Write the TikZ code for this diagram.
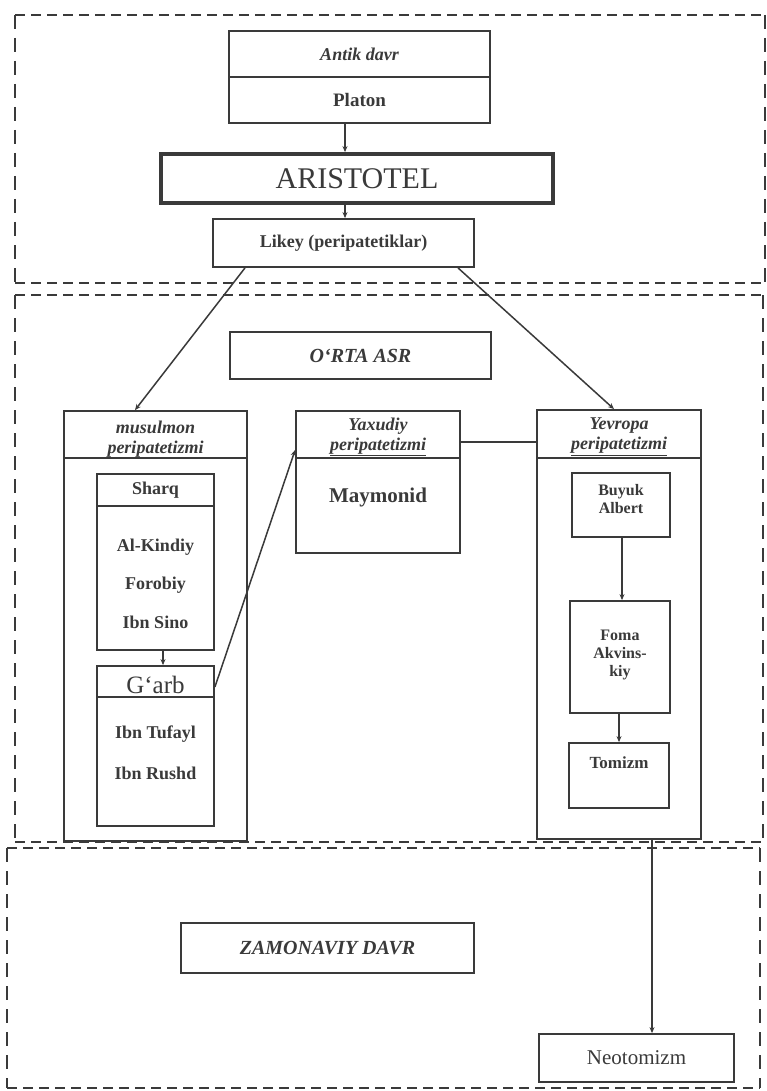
\documentclass[tikz,border=0pt]{standalone}
\usepackage{fontspec}
\setmainfont{Liberation Serif}
\usetikzlibrary{arrows.meta}
\definecolor{ink}{RGB}{58,58,58}
\begin{document}
\begin{tikzpicture}[x=1pt,y=-1pt,
  box/.style={draw=ink, line width=1.8pt, rectangle, inner sep=0pt},
  divider/.style={draw=ink, line width=1.6pt},
  frameh/.style={draw=ink, line width=2.8pt, dash pattern=on 10pt off 6pt},
  framev/.style={draw=ink, line width=2.8pt, dash pattern=on 14pt off 9pt},
  lbl/.style={font=\fontsize{18}{20}\selectfont\bfseries, text=ink, align=center, inner sep=0pt},
  slbl/.style={font=\fontsize{16}{18}\selectfont\bfseries, text=ink, align=center, inner sep=0pt},
  ilbl/.style={font=\fontsize{18}{20}\selectfont\bfseries\itshape, text=ink, align=center, inner sep=0pt},
  conn/.style={draw=ink, line width=1.5pt},
  arr/.style={conn, -{Stealth[length=6pt,width=5pt]}},
]
\useasboundingbox (0,0) rectangle (766,1091);
\fill[white] (0,0) rectangle (766,1091);

% ---------- frames ----------
\draw[frameh] (15,15) -- (765,15);
\draw[frameh] (15,283) -- (765,283);
\draw[framev] (15,15) -- (15,283);
\draw[framev] (765,15) -- (765,283);

\draw[frameh] (15,295) -- (763,295);
\draw[frameh] (15,842) -- (763,842);
\draw[framev] (15,295) -- (15,842);
\draw[framev] (763,295) -- (763,842);

\draw[frameh] (7,848) -- (760,848);
\draw[frameh] (7,1088) -- (760,1088);
\draw[framev] (7,848) -- (7,1088);
\draw[framev] (760,848) -- (760,1088);

% ---------- helper coordinates ----------
\coordinate (xa) at (345,0);
\coordinate (xl1) at (245,0);
\coordinate (xm) at (135,0);
\coordinate (xl2) at (458,0);
\coordinate (xe) at (614,0);
\coordinate (xs) at (163,0);
\coordinate (xb) at (622,0);
\coordinate (xf) at (619,0);
\coordinate (xn) at (652,0);
\coordinate (ya) at (0,77);
\coordinate (yh) at (0,458);
\coordinate (ys) at (0,506);
\coordinate (yg) at (0,697);
\coordinate (ygt) at (0,687);
\coordinate (yyx) at (0,450);
\coordinate (yc) at (0,442);

% ---------- Antik davr ----------
\node[box, minimum width=261pt, minimum height=92pt] (antik) at (359.5,77) {};
\draw[divider] (antik.west |- ya) -- (antik.east |- ya);
\node[ilbl] (antiktxt) at (359.5,54) {Antik davr};
\node[lbl, font=\fontsize{19}{21}\selectfont\bfseries] (platon) at (359.5,100) {Platon};

\node[box, line width=3.8pt, minimum width=392pt, minimum height=49pt,
      font=\fontsize{30}{32}\selectfont, text=ink] (ari) at (357,178.5) {ARISTOTEL};

\node[box, minimum width=261pt, minimum height=48pt, font=\fontsize{18}{20}\selectfont\bfseries, text=ink]
      (likey) at (343.5,243) {Likey (peripatetiklar)};

% ---------- O'rta asr ----------
\node[box, minimum width=261pt, minimum height=47pt, font=\fontsize{20}{22}\selectfont\bfseries\itshape, text=ink]
      (orta) at (360.5,355.5) {O‘RTA ASR};

% musulmon
\node[box, minimum width=183pt, minimum height=430pt] (mus) at (155.5,626) {};
\draw[divider] (mus.west |- yh) -- (mus.east |- yh);
\node[ilbl] (mustxt) at (155.5,440) {musulmon\\\underline{peripatetizmi}};

\node[box, minimum width=117pt, minimum height=176pt] (sharq) at (155.5,562) {};
\draw[divider] (sharq.west |- ys) -- (sharq.east |- ys);
\node[lbl] (sharqtxt) at (155.5,490) {Sharq};
\node[lbl] (kindiy) at (155.5,547) {Al-Kindiy};
\node[lbl] (forobiy) at (155.5,585) {Forobiy};
\node[lbl] (sino) at (155.5,622) {Ibn Sino};

\node[box, minimum width=117pt, minimum height=160pt] (garb) at (155.5,746) {};
\draw[divider] (garb.west |- yg) -- (garb.east |- yg);
\node[font=\fontsize{25}{27}\selectfont, text=ink, inner sep=0pt] (garbtxt) at (155.5,685) {G‘arb};
\node[lbl] (tufayl) at (155.5,734) {Ibn Tufayl};
\node[lbl] (rushd) at (155.5,773) {Ibn Rushd};

% yaxudiy
\node[box, minimum width=164pt, minimum height=142pt] (yax) at (378,482) {};
\draw[divider] (yax.west |- yh) -- (yax.east |- yh);
\node[ilbl] (yaxtxt) at (378,437) {Yaxudiy\\\underline{peripatetizmi}};
\node[lbl, font=\fontsize{21}{23}\selectfont\bfseries] (maymonid) at (378,497) {Maymonid};

% yevropa
\node[box, minimum width=164pt, minimum height=429pt] (yev) at (619,624.5) {};
\draw[divider] (yev.west |- yh) -- (yev.east |- yh);
\node[ilbl] (yevtxt) at (619,437) {Yevropa\\\underline{peripatetizmi}};

\node[box, minimum width=98pt, minimum height=64pt] (buyuk) at (621,505) {};
\node[slbl] (buyuktxt) at (621,499) {Buyuk\\Albert};

\node[box, minimum width=100pt, minimum height=112pt] (foma) at (620,657) {};
\node[slbl] (fomatxt) at (620,655) {Foma\\Akvins-\\kiy};

\node[box, minimum width=100pt, minimum height=65pt] (tomizm) at (619,775.5) {};
\node[lbl, font=\fontsize{17}{19}\selectfont\bfseries] (tomizmtxt) at (619,763) {Tomizm};

% ---------- Zamonaviy davr ----------
\node[box, minimum width=293pt, minimum height=50pt, font=\fontsize{20}{22}\selectfont\bfseries\itshape, text=ink]
      (zam) at (327.5,948) {ZAMONAVIY DAVR};
\node[box, minimum width=195pt, minimum height=48pt, font=\fontsize{21}{23}\selectfont, text=ink]
      (neo) at (636.5,1058) {Neotomizm};

% ---------- connectors ----------
\draw[arr] (antik.south -| xa) -- (ari.north -| xa);
\draw[arr] (ari.south -| xa) -- (likey.north -| xa);
\draw[arr] (likey.south -| xl1) -- (mus.north -| xm);
\draw[arr] (likey.south -| xl2) -- (yev.north -| xe);
\draw[arr] (sharq.south -| xs) -- (garb.north -| xs);
\draw[arr] (garb.east |- ygt) -- (yax.west |- yyx);
\draw[conn] (yax.east |- yc) -- (yev.west |- yc);
\draw[arr] (buyuk.south -| xb) -- (foma.north -| xb);
\draw[arr] (foma.south -| xf) -- (tomizm.north -| xf);
\draw[arr] (yev.south -| xn) -- (neo.north -| xn);
\end{tikzpicture}
\end{document}
